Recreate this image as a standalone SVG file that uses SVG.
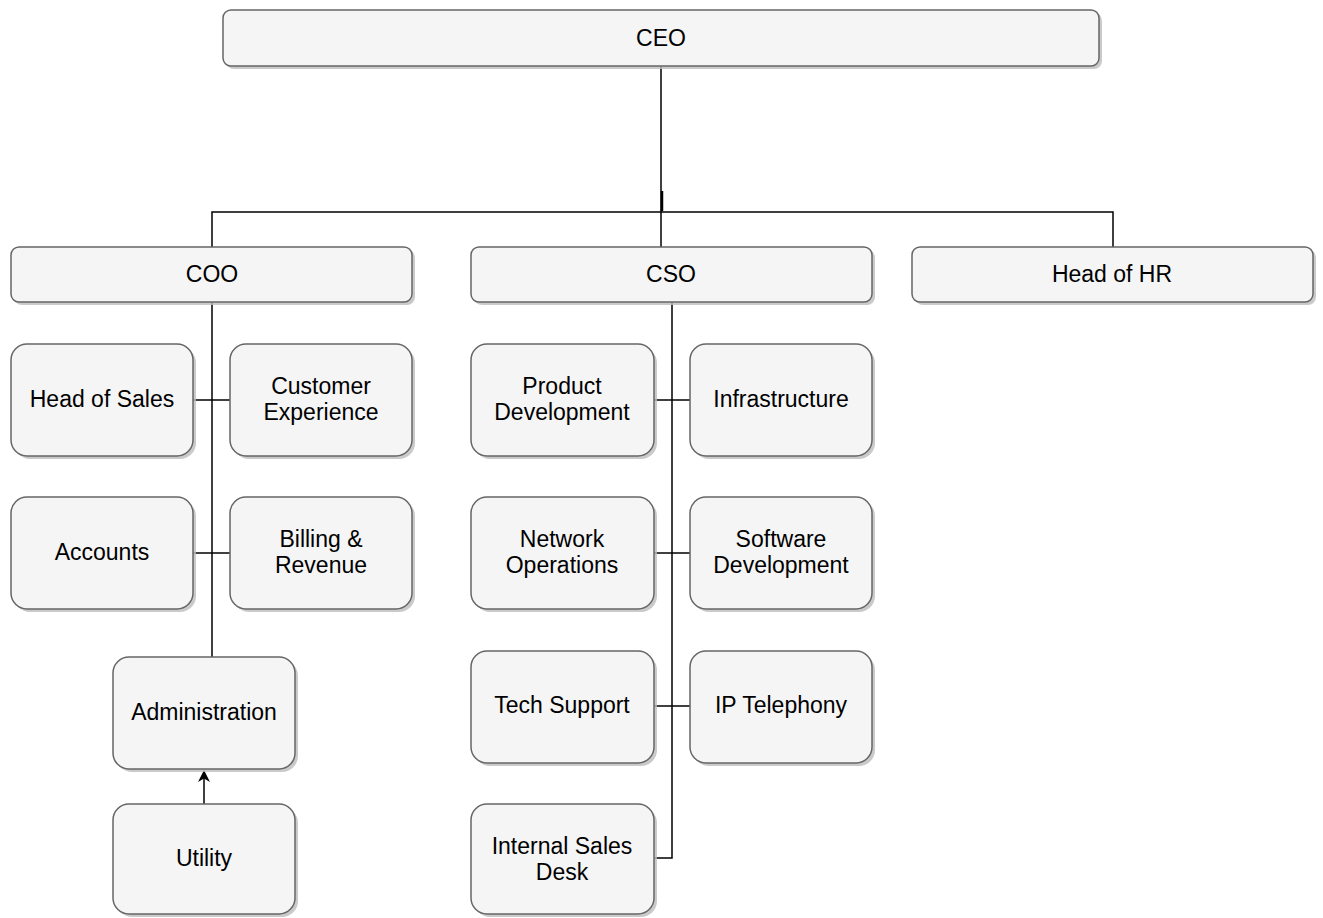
<svg xmlns="http://www.w3.org/2000/svg" width="1323" height="918" viewBox="0 0 1323 918">
<style>
.b{fill:#f5f5f5;stroke:#666;stroke-width:1.5}
.s{fill:#bdbdbd;opacity:0.8}
.t{font-family:"Liberation Sans",Arial,sans-serif;font-size:23px;fill:#000;text-anchor:middle}
.c{fill:none;stroke:#000;stroke-width:1.5}
</style>
<defs>
<marker id="ah" markerWidth="12" markerHeight="12" refX="11" refY="6" orient="auto" markerUnits="userSpaceOnUse">
<path d="M0,0 L12,6 L0,12 L3.5,6 Z" fill="#000"/>
</marker>
</defs>
<rect width="1323" height="918" fill="#fff"/>
<g id="connectors">
<path class="c" d="M661,66 V247"/>
<path class="c" d="M212,247 V212 H1113 V247"/>
<path d="M662,191 V211" stroke="#000" stroke-width="2.5"/>
<path class="c" d="M212,302 V657"/>
<path class="c" d="M193,400 H230"/>
<path class="c" d="M193,553 H230"/>
<path class="c" d="M672,302 V858 H655"/>
<path class="c" d="M654,400 H690"/>
<path class="c" d="M654,553 H690"/>
<path class="c" d="M654,706 H690"/>
<path class="c" d="M204,804 V771" marker-end="url(#ah)"/>
</g>
<g id="ceo"><rect class="s" x="226" y="13" width="876" height="56" rx="8"/><rect class="b" x="223" y="10" width="876" height="56" rx="8"/><text class="t" x="661" y="46">CEO</text></g>
<g id="coo"><rect class="s" x="14" y="250" width="401" height="55" rx="8"/><rect class="b" x="11" y="247" width="401" height="55" rx="8"/><text class="t" x="212" y="282">COO</text></g>
<g id="cso"><rect class="s" x="474" y="250" width="401" height="55" rx="8"/><rect class="b" x="471" y="247" width="401" height="55" rx="8"/><text class="t" x="671" y="282">CSO</text></g>
<g id="hr"><rect class="s" x="915" y="250" width="401" height="55" rx="8"/><rect class="b" x="912" y="247" width="401" height="55" rx="8"/><text class="t" x="1112" y="282">Head of HR</text></g>
<g id="sales"><rect class="s" x="14" y="347" width="182" height="112" rx="16"/><rect class="b" x="11" y="344" width="182" height="112" rx="16"/><text class="t" x="102" y="407">Head of Sales</text></g>
<g id="cx"><rect class="s" x="233" y="347" width="182" height="112" rx="16"/><rect class="b" x="230" y="344" width="182" height="112" rx="16"/><text class="t" x="321" y="394">Customer</text><text class="t" x="321" y="420">Experience</text></g>
<g id="accounts"><rect class="s" x="14" y="500" width="182" height="112" rx="16"/><rect class="b" x="11" y="497" width="182" height="112" rx="16"/><text class="t" x="102" y="560">Accounts</text></g>
<g id="billing"><rect class="s" x="233" y="500" width="182" height="112" rx="16"/><rect class="b" x="230" y="497" width="182" height="112" rx="16"/><text class="t" x="321" y="547">Billing &amp;</text><text class="t" x="321" y="573">Revenue</text></g>
<g id="admin"><rect class="s" x="116" y="660" width="182" height="112" rx="16"/><rect class="b" x="113" y="657" width="182" height="112" rx="16"/><text class="t" x="204" y="720">Administration</text></g>
<g id="utility"><rect class="s" x="116" y="807" width="182" height="110" rx="16"/><rect class="b" x="113" y="804" width="182" height="110" rx="16"/><text class="t" x="204" y="866">Utility</text></g>
<g id="proddev"><rect class="s" x="474" y="347" width="183" height="112" rx="16"/><rect class="b" x="471" y="344" width="183" height="112" rx="16"/><text class="t" x="562" y="394">Product</text><text class="t" x="562" y="420">Development</text></g>
<g id="infra"><rect class="s" x="693" y="347" width="182" height="112" rx="16"/><rect class="b" x="690" y="344" width="182" height="112" rx="16"/><text class="t" x="781" y="407">Infrastructure</text></g>
<g id="netops"><rect class="s" x="474" y="500" width="183" height="112" rx="16"/><rect class="b" x="471" y="497" width="183" height="112" rx="16"/><text class="t" x="562" y="547">Network</text><text class="t" x="562" y="573">Operations</text></g>
<g id="swdev"><rect class="s" x="693" y="500" width="182" height="112" rx="16"/><rect class="b" x="690" y="497" width="182" height="112" rx="16"/><text class="t" x="781" y="547">Software</text><text class="t" x="781" y="573">Development</text></g>
<g id="techsupport"><rect class="s" x="474" y="654" width="183" height="112" rx="16"/><rect class="b" x="471" y="651" width="183" height="112" rx="16"/><text class="t" x="562" y="713">Tech Support</text></g>
<g id="iptel"><rect class="s" x="693" y="654" width="182" height="112" rx="16"/><rect class="b" x="690" y="651" width="182" height="112" rx="16"/><text class="t" x="781" y="713">IP Telephony</text></g>
<g id="isd"><rect class="s" x="474" y="807" width="183" height="110" rx="16"/><rect class="b" x="471" y="804" width="183" height="110" rx="16"/><text class="t" x="562" y="854">Internal Sales</text><text class="t" x="562" y="880">Desk</text></g>
</svg>
